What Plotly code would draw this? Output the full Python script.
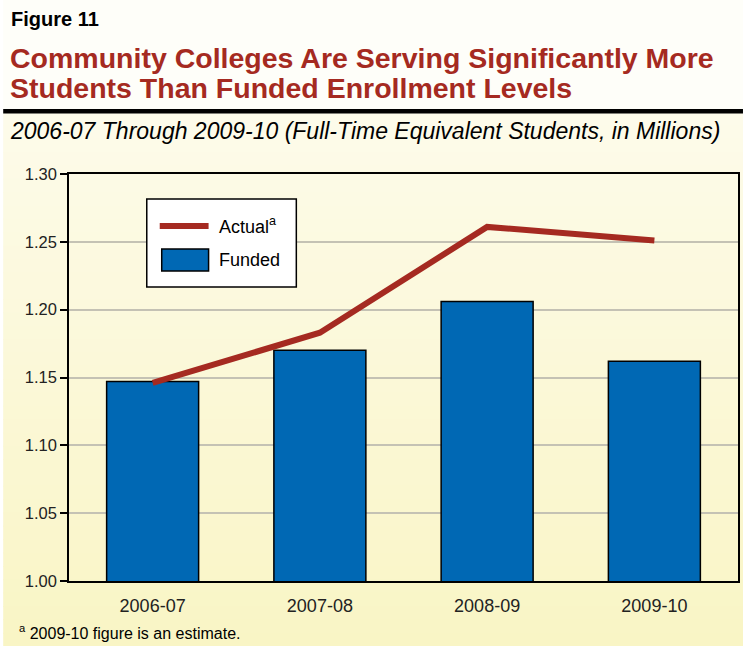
import plotly.graph_objects as go

categories = ["2006-07", "2007-08", "2008-09", "2009-10"]
funded = [1.147, 1.170, 1.206, 1.162]
actual = [1.146, 1.183, 1.261, 1.251]
y_ticks = [1.00, 1.05, 1.10, 1.15, 1.20, 1.25, 1.30]

W, H = 745, 646
L, R, T, B = 69, 740, 174, 581


def px(x):
    return (x - L) / (R - L)


def py(y):
    return (B - y) / (B - T)


def lerp(c1, c2, t):
    return "rgb(%d,%d,%d)" % tuple(round(a + (b - a) * t) for a, b in zip(c1, c2))


shapes = []
# background gradient (below the rule)
top_c = (253, 251, 234)
bot_c = (249, 245, 197)
g0 = 112
n = 40
for i in range(n):
    y0 = g0 + i * (H - g0) / n
    y1 = y0 + (H - g0) / n + 1
    shapes.append(dict(type="rect", xref="paper", yref="paper", layer="below",
                       x0=px(3), x1=px(W), y0=py(y1), y1=py(y0),
                       fillcolor=lerp(top_c, bot_c, (i + 0.5) / n), line=dict(width=0)))
# title area
shapes.append(dict(type="rect", xref="paper", yref="paper", layer="below",
                   x0=px(3), x1=px(W), y0=py(110), y1=py(0),
                   fillcolor="rgb(254,254,249)", line=dict(width=0)))
# black rule
shapes.append(dict(type="rect", xref="paper", yref="paper",
                   x0=px(3), x1=px(W), y0=py(113.5), y1=py(109),
                   fillcolor="black", line=dict(width=0)))
# legend box
shapes.append(dict(type="rect", xref="paper", yref="paper",
                   x0=px(147), x1=px(297), y0=py(287), y1=py(199),
                   fillcolor="white", line=dict(color="black", width=1.5)))
shapes.append(dict(type="line", xref="paper", yref="paper",
                   x0=px(160), x1=px(209), y0=py(226), y1=py(226),
                   line=dict(color="#A52A21", width=6)))
shapes.append(dict(type="rect", xref="paper", yref="paper",
                   x0=px(162), x1=px(209), y0=py(271), y1=py(249),
                   fillcolor="#0068B4", line=dict(color="black", width=1.5)))

annotations = [
    dict(text="<b>Figure 11</b>", x=px(9), y=py(19), xanchor="left", yanchor="middle",
         font=dict(size=20, color="black", family="Liberation Sans")),
    dict(text="<b>Community Colleges Are Serving Significantly More</b>", x=px(8), y=py(58),
         xanchor="left", yanchor="middle",
         font=dict(size=28.5, color="#A52A21", family="Liberation Sans")),
    dict(text="<b>Students Than Funded Enrollment Levels</b>", x=px(8), y=py(88),
         xanchor="left", yanchor="middle",
         font=dict(size=28.5, color="#A52A21", family="Liberation Sans")),
    dict(text="<i>2006-07 Through 2009-10 (Full-Time Equivalent Students, in Millions)</i>",
         x=px(8), y=py(131), xanchor="left", yanchor="middle",
         font=dict(size=23, color="black", family="Liberation Sans")),
    dict(text="Actual<sup>a</sup>", x=px(217), y=py(226), xanchor="left", yanchor="middle",
         font=dict(size=18, color="black", family="Liberation Sans")),
    dict(text="Funded", x=px(217), y=py(260), xanchor="left", yanchor="middle",
         font=dict(size=18, color="black", family="Liberation Sans")),
    dict(text="<sup>a</sup> 2009-10 figure is an estimate.", x=px(17), y=py(632),
         xanchor="left", yanchor="middle",
         font=dict(size=16, color="black", family="Liberation Sans")),
]
for a in annotations:
    a.update(xref="paper", yref="paper", showarrow=False)

fig = go.Figure()
fig.add_trace(go.Bar(x=categories, y=funded, name="Funded", width=0.55,
                     marker=dict(color="#0068B4", line=dict(color="black", width=1.5)),
                     showlegend=False))
fig.add_trace(go.Scatter(x=categories, y=actual, name="Actual", mode="lines",
                         line=dict(color="#A52A21", width=6), showlegend=False))

fig.update_layout(
    width=W, height=H,
    margin=dict(l=L, r=W - R, t=T, b=H - B),
    paper_bgcolor="rgb(255,255,255)",
    plot_bgcolor="rgba(0,0,0,0)",
    font=dict(family="Liberation Sans", color="black", size=16),
    shapes=shapes,
    annotations=annotations,
    bargap=0.45,
    xaxis=dict(type="category", showline=True, linecolor="black", linewidth=1.5, mirror=True,
               ticks="", ticklabelstandoff=8, tickfont=dict(size=18, color="#222"),
               showgrid=False),
    yaxis=dict(range=[1.0, 1.30], tickvals=y_ticks,
               ticktext=["%.2f" % v for v in y_ticks],
               showline=True, linecolor="black", linewidth=1.5, mirror=True,
               ticks="outside", ticklen=7, tickwidth=1.5, tickcolor="black",
               tickfont=dict(size=16.5, color="#222"),
               showgrid=True, gridcolor="#C4C2B4", gridwidth=2, zeroline=False),
)

fig.write_html("out.html", config={"displayModeBar": False},
               post_script="document.body.style.margin='0';document.body.style.overflow='hidden';")
